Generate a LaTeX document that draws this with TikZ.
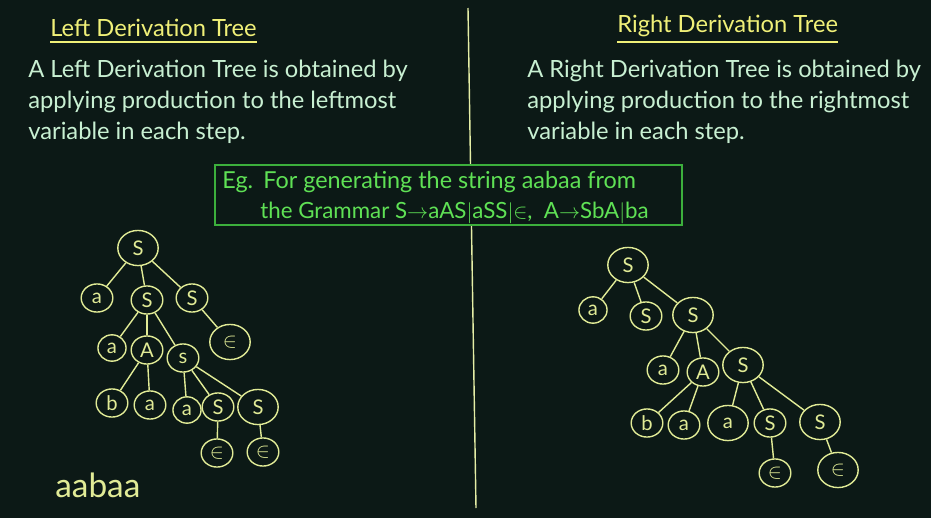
\documentclass[tikz,border=0pt]{standalone}
\usepackage{fontspec}
\setmainfont{Lato}
\usepackage{amssymb}
\usetikzlibrary{shapes.geometric}
\definecolor{tafel}{RGB}{12,25,22}
\definecolor{titel}{RGB}{240,240,120}
\definecolor{schrift}{RGB}{200,240,210}
\definecolor{rahmen}{RGB}{60,175,60}
\definecolor{gruentext}{RGB}{95,225,85}
\definecolor{kreide}{RGB}{225,235,150}

\begin{document}
\begin{tikzpicture}[x=0.02cm, y=-0.02cm]
    \tikzset{
        heading/.style={text=titel, font=\fontsize{13.5}{16}\selectfont, anchor=base west, inner sep=0pt},
        body/.style={text=schrift, font=\fontsize{13.5}{16}\selectfont, anchor=base west, inner sep=0pt},
        example/.style={text=gruentext, font=\fontsize{13.3}{16}\selectfont, anchor=base west, inner sep=0pt},
        vertex/.style={ellipse, draw=kreide, line width=0.8pt, text=kreide, inner sep=0pt,
            minimum width=18pt, minimum height=16pt, font=\fontsize{11.5}{13}\selectfont},
        vsmall/.style={minimum width=16pt, minimum height=15pt},
        vmid/.style={},
        vbig/.style={minimum width=23pt, minimum height=20pt},
        branch/.style={draw=kreide, line width=0.8pt}
    }

    % Tafel
    \fill[tafel] (0,0) rectangle (931,518);
    \draw[kreide!85!white, line width=0.8pt] (468,8) -- (476,508);

    % --- Ueberschriften ---
    \node[heading] (lefttitle) at (50,36) {Left Derivation Tree};
    \node[heading] (righttitle) at (617,32) {Right Derivation Tree};
    \draw[titel, line width=1.1pt] (lefttitle.west |- 0,42) -- (lefttitle.east |- 0,42);
    \draw[titel, line width=1.1pt] (righttitle.west |- 0,42) -- (righttitle.east |- 0,42);

    % --- Erklaerungen ---
    \foreach \i/\y/\txt in {1/77/A Left Derivation Tree is obtained by,
                            2/108/applying production to the leftmost,
                            3/139/variable in each step.} {
        \node[body] (lefttext\i) at (28,\y) {\txt};
    }
    \foreach \i/\y/\txt in {1/77/A Right Derivation Tree is obtained by,
                            2/108/applying production to the rightmost,
                            3/139/variable in each step.} {
        \node[body] (righttext\i) at (527,\y) {\txt};
    }

    % --- Beispiel ---
    \filldraw[fill=tafel, draw=rahmen, line width=1pt] (215,165) rectangle (682,225);
    \node[example] (eg) at (222,188) {Eg.};
    \node[example] (egline1) at (263,188) {For generating the string aabaa from};
    \node[example, font=\fontsize{12.7}{16}\selectfont] (egline2) at (260,218) {the Grammar S$\rightarrow$aAS$|$aSS$|\mathord{\in}$,\ \ A$\rightarrow$SbA$|$ba};

    % --- linker Baum ---
    \foreach \n/\x/\y/\t/\s in {L0/138/248/S/vbig, L1/97/298/a/vmid, L2/147/300/S/vmid,
            L3/192/298/S/vmid, L4/230/342/$\in$/vbig, L5/112/348/a/vsmall,
            L6/147/350/A/vmid, L7/183/358/s/vmid, L8/112/403/b/vmid, L9/150/405/a/vmid,
            L10/187/410/a/vsmall, L11/218/407/S/vmid, L12/258/407/S/vbig,
            L13/217/453/$\in$/vmid, L14/263/452/$\in$/vmid} {
        \node[vertex, \s] (\n) at (\x,\y) {\t};
    }
    \foreach \a/\b in {L0/L1, L0/L2, L0/L3, L2/L5, L2/L6, L2/L7, L3/L4, L6/L8, L6/L9,
            L7/L10, L7/L11, L7/L12, L11/L13, L12/L14} {
        \draw[branch] (\a) -- (\b);
    }
    \node[text=kreide, font=\fontsize{19}{22}\selectfont, anchor=base west, inner sep=0pt] (result) at (55,497) {aabaa};

    % --- rechter Baum ---
    \foreach \n/\x/\y/\t/\s in {R0/628/265/S/vbig, R1/593/310/a/vsmall, R2/646/316/S/vmid,
            R3/693/315/S/vbig, R4/663/370/a/vmid, R5/703/372/A/vmid, R6/743/365/S/vbig,
            R7/647/423/b/vmid, R8/684/425/a/vmid, R9/728/423/a/vbig, R10/770/423/S/vmid,
            R11/820/422/S/vbig, R12/775/473/$\in$/vmid, R13/838/470/$\in$/vbig} {
        \node[vertex, \s] (\n) at (\x,\y) {\t};
    }
    \foreach \a/\b in {R0/R1, R0/R2, R0/R3, R3/R4, R3/R5, R3/R6, R5/R7, R5/R8,
            R6/R9, R6/R10, R6/R11, R10/R12, R11/R13} {
        \draw[branch] (\a) -- (\b);
    }
\end{tikzpicture}
\end{document}
